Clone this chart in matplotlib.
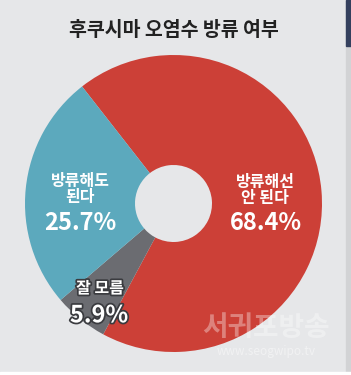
import matplotlib.pyplot as plt
import matplotlib.patches as mpatches
import matplotlib.patheffects as pe
import numpy as np

plt.rcParams['font.family'] = ['Noto Sans CJK KR', 'DejaVu Sans']

title = "후쿠시마 오염수 방류 여부"
labels = ["방류해선\n안 된다", "잘 모름", "방류해도\n된다"]
values = [68.4, 5.9, 25.7]
colors = ["#cc4037", "#6b6c71", "#5ca9bd"]

bg = "#e6e7e9"
W, H = 351, 375

fig = plt.figure(figsize=(W / 100, H / 100), dpi=100)
fig.patch.set_facecolor(bg)

# page edge artifacts on the right / bottom
fig.add_artist(mpatches.Rectangle((346 / W, 0), 5 / W, 1, transform=fig.transFigure,
                                  color="#d2d3d5", zorder=0))
fig.add_artist(mpatches.Rectangle((346 / W, 1 - 46 / H), 5 / W, 46 / H,
                                  transform=fig.transFigure, color="#34405e", zorder=0))
fig.add_artist(mpatches.Rectangle((0, 0), 1, 3 / H, transform=fig.transFigure,
                                  color="white", zorder=0))

fig.text(174 / W, 1 - 30 / H, title, ha="center", va="center",
         fontsize=14, fontweight="bold", color="#222222")

cx, cy, r = 173.5, 203.5, 148.5
ax = fig.add_axes([(cx - r) / W, (H - cy - r) / H, 2 * r / W, 2 * r / H])
ax.set_facecolor(bg)
wedges, _ = ax.pie(values, colors=colors, startangle=128, counterclock=False,
                   radius=1, wedgeprops=dict(width=1 - 38.5 / r, linewidth=0))
ax.set_xlim(-1, 1)
ax.set_ylim(-1, 1)
ax.set_aspect("equal")
ax.axis("off")

# label placement: distance from centre, name offset, pct offset (pixels)
dist = [0.62, 0.82, 0.63]
name_off = [(0, 6), (3, 10), (0, 5)]
pct_off = [(1, -27), (2, -17), (0, -29)]

stroke = [None, [pe.withStroke(linewidth=2.5, foreground="#3a3b3f")], None]
for w, lab, v, d, no, po, st in zip(wedges, labels, values, dist, name_off, pct_off, stroke):
    ang = np.deg2rad((w.theta1 + w.theta2) / 2)
    x, y = d * np.cos(ang), d * np.sin(ang)
    ax.annotate(lab, (x, y), xytext=no, textcoords="offset pixels", ha="center",
                va="center", fontsize=11.5, color="white", linespacing=1.0,
                fontweight="bold", path_effects=st)
    ax.annotate(f"{v}%", (x, y), xytext=po, textcoords="offset pixels", ha="center",
                va="center", fontsize=17, color="white", fontweight="bold",
                path_effects=st)

# watermark
fig.text(266 / W, 1 - 328 / H, "서귀포방송", ha="center", va="center", fontsize=20,
         fontweight="bold", color="white", alpha=0.35)
fig.text(266 / W, 1 - 352 / H, "www.seogwipo.tv", ha="center", va="center", fontsize=8.5,
         color="white", alpha=0.45)

fig.savefig("out.png", dpi=100, facecolor=fig.get_facecolor())
